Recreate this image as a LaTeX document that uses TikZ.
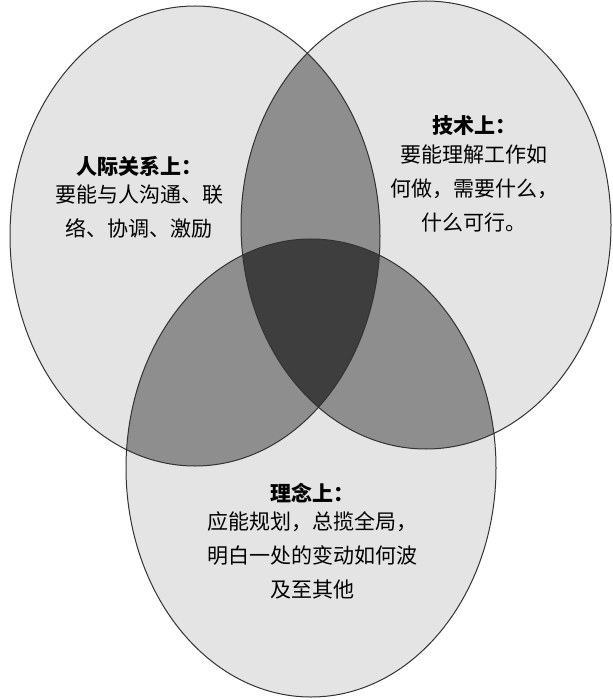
\documentclass[tikz,border=0pt]{standalone}
\usepackage{fontspec}
\newfontfamily\cjk{Noto Sans CJK SC}
\usepackage{xcolor}
\usetikzlibrary{positioning}
\definecolor{paper}{HTML}{E4E4E4}
\definecolor{twofold}{HTML}{8E8E8E}
\definecolor{threefold}{HTML}{3E3E3E}

\begin{document}
\begin{tikzpicture}[
    x=1pt, y=-1pt,
    node distance=8pt,
    ring/.style={draw=black!80, line width=1pt},
    head/.style={font=\cjk\bfseries\fontsize{21}{24}\selectfont, inner sep=0pt},
    note/.style={font=\cjk\fontsize{21}{34}\selectfont, align=center, inner sep=0pt}
]
    \def\lefte{(195,236) ellipse [x radius=185pt, y radius=230pt]}
    \def\righte{(426,225) ellipse [x radius=185pt, y radius=224pt]}
    \def\bottome{(311,468) ellipse [x radius=185pt, y radius=229pt]}

    \fill[white] (0,0) rectangle (612,700);
    \useasboundingbox (0,0) rectangle (612,700);

    % single areas
    \fill[paper] \lefte;
    \fill[paper] \righte;
    \fill[paper] \bottome;

    % pairwise overlaps
    \begin{scope}
        \clip \lefte;
        \fill[twofold] \righte;
        \fill[twofold] \bottome;
    \end{scope}
    \begin{scope}
        \clip \righte;
        \fill[twofold] \bottome;
    \end{scope}

    % centre
    \begin{scope}
        \clip \lefte;
        \clip \righte;
        \fill[threefold] \bottome;
    \end{scope}

    \draw[ring] \lefte;
    \draw[ring] \righte;
    \draw[ring] \bottome;

    \node[head] (people) at (139,166) {人际关系上：};
    \node[note, below=of people] (peopletxt) {要能与人沟通、联\\络、协调、激励};

    \node[head] (tech) at (474,126) {技术上：};
    \node[note, below=of tech] (techtxt) {要能理解工作如\\何做，需要什么，\\什么可行。};

    \node[head] (idea) at (312,493) {理念上：};
    \node[note, below=of idea] (ideatxt) {应能规划，总揽全局，\\明白一处的变动如何波\\及至其他};
\end{tikzpicture}
\end{document}
